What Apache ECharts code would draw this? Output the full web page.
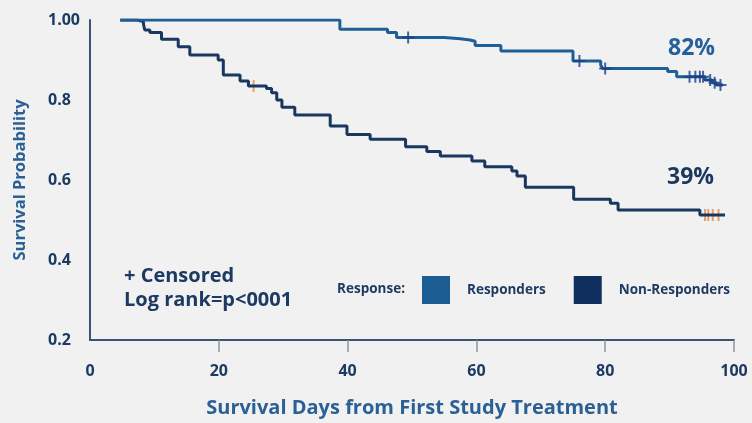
<!DOCTYPE html>
<html>
<head>
<meta charset="utf-8">
<script src="https://cdn.jsdelivr.net/npm/echarts@6/dist/echarts.min.js"></script>
<style>
  html, body { margin: 0; padding: 0; background: #f1f1f2; }
  #chart { width: 752px; height: 423px; }
</style>
</head>
<body>
<div id="chart"></div>
<script>
// Kaplan-Meier survival estimates: [day, survival probability] at each event time
const respondersSteps = [
  [4.7, 1.0], [38.8, 0.977], [46.2, 0.969], [47.6, 0.956], [55.0, 0.953],
  [57.5, 0.950], [59.0, 0.947], [59.8, 0.936], [63.8, 0.9225], [75.0, 0.8975],
  [79.3, 0.8875], [79.6, 0.879], [89.7, 0.871], [91.1, 0.858], [95.5, 0.850],
  [96.6, 0.843], [97.3, 0.8375], [98.3, 0.8375]
];
const nonRespondersSteps = [
  [4.7, 1.0], [7.3, 0.996], [8.3, 0.99], [8.5, 0.975], [9.3, 0.969],
  [11.1, 0.952], [13.7, 0.933], [15.5, 0.9125], [19.9, 0.90], [20.7, 0.8625],
  [23.3, 0.8475], [24.6, 0.835], [27.4, 0.829], [28.2, 0.818], [29.0, 0.80],
  [29.8, 0.782], [31.8, 0.7625], [37.3, 0.735], [39.9, 0.714], [43.5, 0.702],
  [49.0, 0.683], [52.3, 0.671], [54.4, 0.66], [59.3, 0.6475], [61.3, 0.633],
  [65.5, 0.6225], [66.3, 0.61], [67.6, 0.582], [75.1, 0.552], [80.8, 0.542],
  [82.0, 0.525], [94.7, 0.5125], [98.6, 0.5125]
];
// Censored observations (+)
const respondersCensored = [
  [49.4, 0.956], [76.0, 0.8975], [80.0, 0.879], [93.1, 0.858], [94.0, 0.858],
  [94.7, 0.858], [95.2, 0.858], [96.3, 0.850], [97.0, 0.843], [97.9, 0.8375]
];
const nonRespondersCensored = [
  [25.4, 0.835], [95.5, 0.5125], [96.0, 0.5125], [96.7, 0.5125], [97.6, 0.5125]
];
const seriesNames = ['Responders', 'Non-Responders'];
const endLabels = ['82%', '39%'];
const xTicks = [20, 40, 60, 80, 100];
const noteLines = ['+ Censored', 'Log rank=p<0001'];

const FONT = '"Open Sans", "DejaVu Sans", sans-serif';
const NAVY = '#1c3a62';
const RESP_BLUE = '#1e5f97';
const NONRESP_NAVY = '#19375f';
const PLUS = 'path://M-1,-6H1V-1H6V1H1V6H-1V1H-6V-1H-1Z';

const chart = echarts.init(document.getElementById('chart'));
chart.setOption({
  backgroundColor: '#f1f1f2',
  animation: false,
  grid: { left: 90, right: 18, top: 20, bottom: 82 },
  xAxis: {
    type: 'value', min: 0, max: 100, interval: 20,
    name: 'Survival Days from First Study Treatment',
    nameLocation: 'middle', nameGap: 58,
    nameTextStyle: { color: '#2b6094', fontSize: 20, fontWeight: 'bold', fontFamily: FONT },
    axisLine: { lineStyle: { color: '#3b5372', width: 2 } },
    axisTick: { show: true, length: 12, customValues: xTicks, lineStyle: { color: '#8a96a4', width: 1.5 } },
    axisLabel: { margin: 23, color: NAVY, fontSize: 16, fontWeight: 'bold', fontFamily: FONT },
    splitLine: { show: false }
  },
  yAxis: {
    type: 'value', min: 0.2, max: 1.0, interval: 0.2,
    name: 'Survival Probability',
    nameLocation: 'middle', nameGap: 61,
    nameTextStyle: { color: '#2b6094', fontSize: 16.5, fontWeight: 'bold', fontFamily: FONT },
    axisLine: { show: true, lineStyle: { color: '#3b5372', width: 2 } },
    axisTick: { show: false },
    axisLabel: {
      margin: 42, align: 'left', color: NAVY, fontSize: 16, fontWeight: 'bold', fontFamily: FONT,
      formatter: v => (Math.abs(v - 1) < 1e-9 ? '1.00' : v.toFixed(1))
    },
    splitLine: { show: false }
  },
  legend: {
    data: seriesNames,
    left: 417, top: 271,
    icon: 'rect', itemWidth: 28, itemHeight: 28, itemGap: 28,
    textStyle: { color: NAVY, fontSize: 13.5, fontWeight: 'bold', fontFamily: FONT, padding: [0, 0, 0, 12] }
  },
  graphic: [
    { type: 'text', right: 347, top: 282,
      style: { text: 'Response:', fill: NAVY, font: 'bold 13.5px ' + FONT } },
    { type: 'text', left: 124, top: 264,
      style: { text: noteLines.join('\n'), fill: NAVY, font: 'bold 20px ' + FONT, lineHeight: 24 } },
    { type: 'text', left: 668, top: 37,
      style: { text: endLabels[0], fill: '#25609a', font: 'bold 23px ' + FONT } },
    { type: 'text', left: 667, top: 166,
      style: { text: endLabels[1], fill: NONRESP_NAVY, font: 'bold 23px ' + FONT } }
  ],
  series: [
    {
      name: seriesNames[0], type: 'line', step: 'end', data: respondersSteps,
      showSymbol: false, color: '#1c5e94',
      lineStyle: { color: RESP_BLUE, width: 3 }, z: 3
    },
    {
      name: seriesNames[1], type: 'line', step: 'end', data: nonRespondersSteps,
      showSymbol: false, color: '#0f2f5e',
      lineStyle: { color: NONRESP_NAVY, width: 3 }, z: 2
    },
    {
      name: 'Responders censored', type: 'scatter', data: respondersCensored,
      symbol: PLUS, symbolSize: 12, itemStyle: { color: '#1b3f86' }, z: 4
    },
    {
      name: 'Non-Responders censored', type: 'scatter', data: nonRespondersCensored,
      symbol: PLUS, symbolSize: 12, itemStyle: { color: '#e08a4a' }, z: 1
    }
  ]
});
</script>
</body>
</html>
